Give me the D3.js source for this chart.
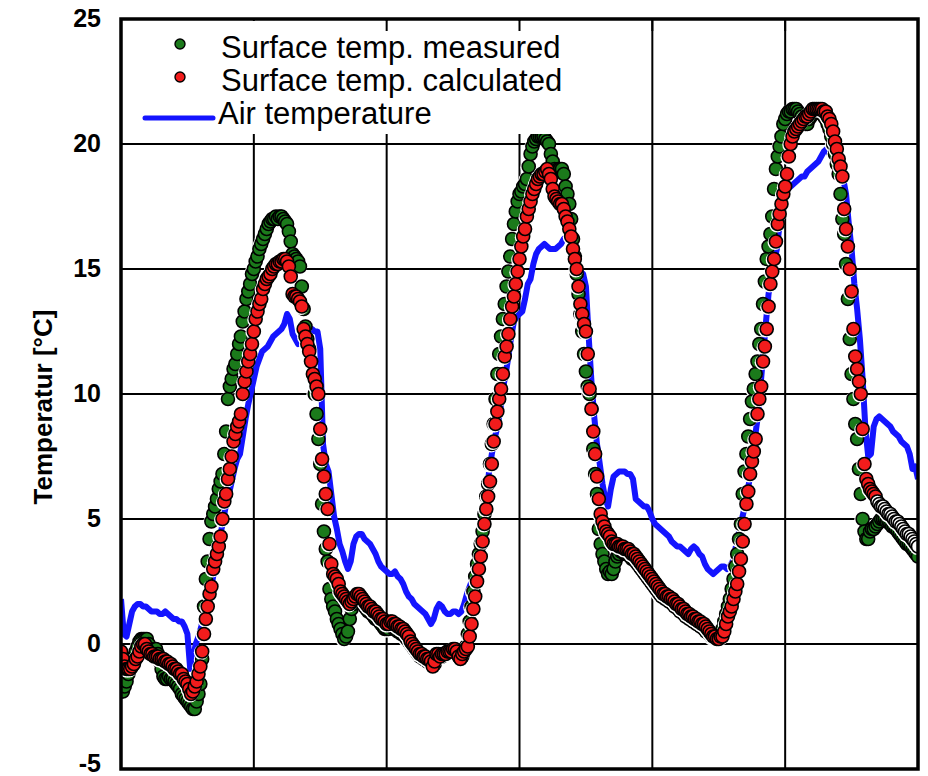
<!DOCTYPE html>
<html>
<head>
<meta charset="utf-8">
<script src="https://cdn.jsdelivr.net/npm/d3@7"></script>
<style>
  body { margin: 0; background: #fff; }
  svg { display: block; }
</style>
</head>
<body>
<svg id="chart" width="928" height="776"></svg>
<script>
// Sampling intervals (hours)
const SURFACE_STEP_H = 1 / 3;   // surface temperatures every 20 min
const AIR_STEP_H = 0.5;         // air temperature every 30 min

// Surface temperature, measured [°C]
const surfaceMeasured = [
  -1.9,-1.9,-1.7,-1.5,-1.2,-1.0,-0.7,-0.5,-0.3,-0.1,0.1,0.2,
  0.2,0.2,0.2,0.0,-0.2,-0.3,-0.3,-0.2,-0.4,-0.7,-1.0,-1.3,
  -1.4,-1.4,-1.3,-1.4,-1.4,-1.5,-1.6,-1.7,-1.8,-2.0,-2.1,-2.2,
  -2.3,-2.4,-2.5,-2.6,-2.6,-2.3,-2.0,-1.6,-0.6,1.5,2.6,3.3,
  4.2,4.9,5.2,5.5,5.8,6.2,6.5,6.8,7.6,8.5,9.8,10.3,
  10.6,11.0,11.2,11.6,12.0,12.3,12.9,13.3,13.8,14.1,14.4,14.8,
  15.0,15.3,15.5,15.8,16.0,16.2,16.4,16.6,16.8,16.9,17.0,17.0,
  17.1,17.0,17.1,17.1,17.0,16.9,16.8,16.5,16.1,15.6,15.5,15.4,
  15.3,15.1,14.3,13.4,12.7,12.2,11.8,11.3,10.7,10.0,9.2,8.2,
  7.2,5.6,4.5,3.8,3.3,2.2,1.8,1.5,1.3,1.0,0.8,0.6,
  0.4,0.2,0.3,0.5,1.0,1.4,1.6,1.7,1.8,1.8,1.7,1.6,
  1.5,1.4,1.3,1.3,1.2,1.1,1.0,1.0,0.9,0.8,0.7,0.6,
  0.6,0.6,0.7,0.7,0.6,0.6,0.5,0.5,0.4,0.4,0.3,0.2,
  0.1,0.0,-0.1,-0.2,-0.3,-0.4,-0.5,-0.5,-0.6,-0.6,-0.7,-0.7,
  -0.8,-0.9,-0.8,-0.5,-0.5,-0.5,-0.5,-0.4,-0.4,-0.3,-0.3,-0.3,
  -0.3,-0.3,-0.4,-0.5,-0.6,-0.5,-0.3,-0.1,0.4,0.9,1.5,2.1,
  2.7,3.2,3.6,4.0,4.5,5.2,5.9,6.4,7.2,8.0,8.8,9.8,
  10.8,11.6,12.3,13.0,13.6,14.3,14.9,15.5,16.2,16.8,17.3,17.7,
  18.0,18.1,18.3,18.4,18.6,19.1,19.6,19.9,20.1,20.2,20.3,20.3,
  20.3,20.3,20.2,20.1,20.0,19.6,19.3,19.0,18.9,19.0,19.0,19.0,
  18.8,18.3,18.0,17.6,17.0,16.2,15.5,14.8,14.0,13.2,12.5,11.6,
  10.9,10.3,10.0,9.4,7.8,6.8,6.0,4.6,4.0,3.6,3.3,3.0,
  2.8,2.9,2.8,3.0,3.3,3.5,3.6,3.7,3.7,3.6,3.6,3.6,
  3.5,3.4,3.4,3.3,3.2,3.1,3.0,2.9,2.8,2.7,2.6,2.5,
  2.4,2.3,2.2,2.1,2.0,1.9,1.9,1.8,1.8,1.7,1.7,1.6,
  1.5,1.5,1.4,1.3,1.3,1.2,1.1,1.1,1.0,1.0,0.9,0.9,
  0.8,0.8,0.7,0.7,0.6,0.5,0.5,0.4,0.3,0.3,0.2,0.2,
  0.3,0.4,0.6,0.9,1.2,1.5,1.8,2.2,2.6,3.1,3.6,4.2,
  4.8,6.0,6.9,7.6,8.3,9.0,9.7,10.2,10.8,11.3,12.0,12.6,
  13.6,14.5,15.4,15.9,16.4,17.1,18.2,19.0,19.5,19.9,20.3,20.8,
  21.0,21.2,21.3,21.3,21.4,21.4,21.4,21.3,21.2,21.1,21.0,20.8,
  20.8,21.0,21.1,21.2,21.3,21.3,21.3,21.3,21.2,21.1,21.0,20.8,
  20.6,20.3,20.0,19.6,19.2,18.8,18.0,17.0,16.4,15.2,13.8,12.2,
  10.8,9.8,8.8,8.2,7.0,6.0,5.0,4.5,4.2,4.2,4.5,4.6,
  4.6,4.7,4.8,4.9,5.0,5.0,5.0,4.9,4.9,4.8,4.7,4.7,
  4.6,4.5,4.4,4.3,4.2,4.1,4.0,4.0,3.9,3.8,3.7,3.6,3.5
];

// Surface temperature, calculated [°C]
const surfaceCalculated = [
  -0.3,-0.6,-0.9,-1.0,-1.0,-1.0,-0.9,-0.8,-0.6,-0.5,-0.3,-0.1,
  0.0,0.0,-0.2,-0.3,-0.4,-0.4,-0.5,-0.5,-0.5,-0.6,-0.6,-0.6,
  -0.7,-0.7,-0.8,-0.8,-0.9,-1.0,-1.0,-1.1,-1.2,-1.2,-1.4,-1.5,
  -1.6,-1.8,-2.0,-1.9,-1.7,-1.5,-1.2,-0.9,-0.3,0.4,1.0,1.5,
  2.0,2.3,3.0,3.3,3.6,3.9,4.3,5.0,5.7,6.0,6.6,7.0,
  7.5,8.1,8.4,8.7,8.9,9.2,10.0,10.5,10.9,11.3,11.6,12.0,
  12.5,13.0,13.3,13.6,13.8,14.2,14.4,14.6,14.7,14.8,15.0,15.1,
  15.2,15.2,15.3,15.3,15.4,15.4,15.3,15.1,14.7,14.0,13.9,13.9,
  13.8,13.7,13.5,12.6,12.3,12.0,11.7,11.3,10.8,10.6,10.3,10.0,
  8.6,7.4,6.7,6.0,5.4,4.0,3.2,2.8,2.7,2.6,2.4,2.1,
  2.0,1.9,1.8,1.7,1.6,1.7,1.8,1.9,2.0,2.0,1.9,1.8,
  1.7,1.6,1.5,1.5,1.4,1.3,1.3,1.2,1.1,1.0,1.0,0.9,
  0.8,0.8,0.9,0.9,0.8,0.8,0.7,0.7,0.6,0.6,0.5,0.4,
  0.3,0.1,0.0,-0.1,-0.2,-0.3,-0.4,-0.4,-0.5,-0.5,-0.6,-0.6,
  -0.7,-0.9,-0.7,-0.4,-0.4,-0.5,-0.4,-0.4,-0.4,-0.3,-0.3,-0.3,
  -0.2,-0.2,-0.3,-0.5,-0.6,-0.4,-0.3,-0.2,-0.1,0.3,0.8,1.4,
  1.9,2.5,3.0,3.5,4.1,4.8,5.4,5.9,6.5,7.2,8.1,8.8,
  9.3,9.8,10.2,10.8,11.5,11.9,12.4,13.0,13.5,13.9,14.4,14.9,
  15.4,15.9,16.3,16.6,17.1,17.4,17.7,18.0,18.2,18.4,18.6,18.7,
  18.8,18.8,18.9,19.0,18.8,18.6,18.2,17.9,17.8,17.7,17.6,17.6,
  17.4,17.1,16.9,16.6,16.3,15.8,15.4,15.0,14.3,13.6,13.2,12.8,
  12.5,11.6,10.2,9.4,8.5,7.6,6.7,5.8,5.2,4.9,4.7,4.5,
  4.4,4.3,4.1,4.0,4.0,4.0,3.9,3.9,3.9,3.8,3.8,3.8,
  3.7,3.6,3.6,3.5,3.4,3.3,3.2,3.1,3.0,2.9,2.8,2.7,
  2.6,2.5,2.4,2.3,2.2,2.1,2.0,2.0,1.9,1.9,1.8,1.8,
  1.7,1.6,1.6,1.5,1.4,1.4,1.3,1.2,1.2,1.1,1.1,1.0,
  1.0,0.9,0.9,0.8,0.8,0.7,0.6,0.5,0.4,0.3,0.3,0.2,
  0.2,0.3,0.3,0.5,0.8,1.1,1.3,1.5,1.8,2.1,2.4,2.9,
  3.4,4.1,4.8,5.6,6.1,6.8,7.3,7.7,8.2,9.2,9.8,10.3,
  11.3,11.9,12.6,13.5,14.4,14.9,15.4,16.1,16.8,17.2,17.6,18.0,
  18.3,18.8,19.5,20.0,20.3,20.5,20.6,20.7,20.8,20.9,21.0,21.1,
  21.1,21.2,21.3,21.4,21.4,21.4,21.4,21.4,21.4,21.3,21.3,21.1,
  21.0,20.8,20.5,20.1,19.8,19.4,19.1,18.7,17.4,16.6,15.9,15.0,
  14.1,12.6,11.5,11.0,10.5,10.0,8.6,7.2,6.6,6.4,6.2,6.1,
  6.0,5.9,5.7,5.6,5.5,5.5,5.4,5.3,5.2,5.2,5.1,5.0,
  4.9,4.9,4.8,4.7,4.6,4.5,4.4,4.4,4.3,4.2,4.1,4.0,3.9
];
// Calculated values from this hour on are shown as open (white) markers
const calcOpenFromHour = 136.5;

// Air temperature [°C]
const airTemperature = [
  1.8,0.4,0.3,0.8,1.3,1.5,1.6,1.6,1.5,1.5,1.4,1.3,
  1.3,1.3,1.2,1.2,1.3,1.2,1.1,1.0,1.0,0.9,0.9,0.7,
  0.4,-1.0,-0.6,0.0,0.3,0.7,1.2,1.5,1.9,2.5,3.2,3.8,
  4.4,5.0,5.6,6.0,6.5,7.0,7.4,7.6,8.3,9.0,9.6,10.1,
  10.6,11.1,11.4,11.7,11.8,11.9,12.1,12.3,12.4,12.5,12.6,12.8,
  13.2,13.0,12.4,12.2,12.0,12.1,12.4,12.5,12.6,12.6,12.5,12.5,
  11.8,8.0,7.2,6.9,6.0,5.1,4.6,4.0,3.7,3.3,3.0,3.3,
  4.0,4.3,4.4,4.4,4.2,4.1,4.0,3.8,3.6,3.3,3.1,3.0,
  2.9,2.8,2.8,2.9,2.7,2.6,2.4,2.1,1.9,1.8,1.6,1.5,
  1.4,1.3,1.2,1.0,0.8,1.0,1.4,1.6,1.5,1.3,1.2,1.2,
  1.3,1.3,1.2,1.3,1.6,2.0,2.3,2.6,2.8,3.2,3.7,4.7,
  5.8,6.9,7.6,8.2,8.7,9.3,10.2,10.8,11.5,12.3,12.9,13.1,
  13.2,13.3,13.8,14.4,14.6,15.2,15.6,15.8,15.9,16.0,15.9,15.8,
  15.8,15.8,15.9,16.0,16.2,16.3,16.2,15.8,15.4,15.0,14.9,14.8,
  14.3,12.3,10.5,9.1,8.0,7.2,6.4,5.8,5.5,6.2,6.7,6.8,
  6.9,6.9,6.9,6.8,6.8,6.6,5.8,5.7,5.6,5.5,5.5,5.3,
  5.0,4.8,4.7,4.6,4.5,4.4,4.3,4.1,4.0,3.9,3.9,3.8,
  3.7,3.6,3.8,3.9,3.8,3.6,3.5,3.2,3.0,2.9,2.8,2.9,
  3.0,3.1,3.1,3.0,3.1,3.3,3.8,4.3,4.8,5.3,5.8,6.5,
  7.2,8.2,9.0,10.2,11.5,12.8,14.0,14.7,15.3,15.8,16.8,17.5,
  18.0,18.2,18.3,18.4,18.5,18.6,18.7,18.7,18.9,19.0,19.1,19.2,
  19.3,19.5,19.7,19.8,19.6,19.4,19.2,19.0,18.8,18.6,18.0,16.8,
  15.8,14.4,13.4,12.2,10.6,8.6,7.5,7.6,8.7,9.0,9.1,9.0,
  8.9,8.8,8.7,8.5,8.4,8.3,8.1,8.0,7.9,7.6,7.0,7.1,6.6
];

// Axis ticks
const yTicks = [-5, 0, 5, 10, 15, 20, 25];
const dayLines = [24, 48, 72, 96, 120];   // hours
const topTickHours = [48, 72, 96, 120];

// Legend entries
const legendItems = [
  { label: "Surface temp. measured",   kind: "dot",  color: "#1b7a1b" },
  { label: "Surface temp. calculated", kind: "dot",  color: "#f21c1c" },
  { label: "Air temperature",          kind: "line", color: "#1414ff" }
];

const colors = { measured: "#1b7a1b", calculated: "#f21c1c", air: "#1414ff" };
const FONT = "'Liberation Sans', Arial, Helvetica, sans-serif";

const width = 928, height = 776;
const margin = { top: 19, right: 10, bottom: 7, left: 121 };

const x = d3.scaleLinear().domain([0, 144]).range([margin.left, width - margin.right]);
const y = d3.scaleLinear().domain([-5, 25]).range([height - margin.bottom, margin.top]);

const svg = d3.select("#chart");

svg.append("defs").append("clipPath").attr("id", "plot-clip")
  .append("rect")
  .attr("x", x(0)).attr("y", y(25))
  .attr("width", x(144) - x(0)).attr("height", y(-5) - y(25));

// Grid
const grid = svg.append("g").attr("stroke", "#000").attr("stroke-width", 2);
grid.selectAll("line.h").data(yTicks.filter(d => d > -5 && d < 25)).join("line")
  .attr("class", "h")
  .attr("x1", x(0)).attr("x2", x(144))
  .attr("y1", d => y(d)).attr("y2", d => y(d));
grid.selectAll("line.v").data(dayLines).join("line")
  .attr("class", "v")
  .attr("x1", d => x(d)).attr("x2", d => x(d))
  .attr("y1", y(25)).attr("y2", y(-5));

const plot = svg.append("g").attr("clip-path", "url(#plot-clip)");

// Air temperature line
const airLine = d3.line()
  .x((d, i) => x(i * AIR_STEP_H))
  .y(d => y(d));
plot.append("path")
  .datum(airTemperature)
  .attr("d", airLine)
  .attr("fill", "none")
  .attr("stroke", colors.air)
  .attr("stroke-width", 6)
  .attr("stroke-linejoin", "round");

// Surface temperature markers: a white rim under the whole series,
// then coloured discs with black outlines on top
function drawMarkers(values, fill) {
  const pts = values.map((v, i) => ({ t: i * SURFACE_STEP_H, v }));
  const g = plot.append("g");
  g.append("g").selectAll("circle").data(pts).join("circle")
    .attr("cx", d => x(d.t) - 0.9)
    .attr("cy", d => y(d.v) + 0.9)
    .attr("r", 7.5)
    .attr("fill", "#fff");
  g.append("g").selectAll("circle").data(pts).join("circle")
    .attr("cx", d => x(d.t))
    .attr("cy", d => y(d.v))
    .attr("r", 6.5)
    .attr("fill", fill)
    .attr("stroke", "#000")
    .attr("stroke-width", 1.6);
}
drawMarkers(surfaceMeasured, () => colors.measured);
drawMarkers(surfaceCalculated, d => d.t >= calcOpenFromHour ? "#fff" : colors.calculated);

// Legend
const legend = svg.append("g");
legend.append("rect")
  .attr("x", x(0) + 3).attr("y", y(25) + 2)
  .attr("width", 476).attr("height", 113)
  .attr("fill", "#fff");
const rowY = [47, 80, 113];
legendItems.forEach((item, i) => {
  const cy = rowY[i];
  if (item.kind === "dot") {
    legend.append("circle")
      .attr("cx", 180).attr("cy", cy - 3).attr("r", 5)
      .attr("fill", item.color).attr("stroke", "#000").attr("stroke-width", 1.4);
  } else {
    legend.append("line")
      .attr("x1", 145).attr("x2", 213)
      .attr("y1", cy + 5).attr("y2", cy + 5)
      .attr("stroke", item.color).attr("stroke-width", 5)
      .attr("stroke-linecap", "round");
  }
  legend.append("text")
    .attr("x", item.kind === "dot" ? 221 : 218)
    .attr("y", cy + 11)
    .attr("font-family", FONT)
    .attr("font-size", 31)
    .attr("fill", "#000")
    .text(item.label);
});

// Short ticks along the top edge
svg.append("g").selectAll("line").data(topTickHours).join("line")
  .attr("x1", d => x(d)).attr("x2", d => x(d))
  .attr("y1", y(25)).attr("y2", y(25) + 12)
  .attr("stroke", "#000").attr("stroke-width", 2);

// Frame
svg.append("rect")
  .attr("x", x(0)).attr("y", y(25))
  .attr("width", x(144) - x(0)).attr("height", y(-5) - y(25))
  .attr("fill", "none").attr("stroke", "#000").attr("stroke-width", 3.5);

// Y axis labels (kept inside the canvas at the bottom edge)
const yg = svg.append("g");
yg.selectAll("text").data(yTicks).join("text")
  .attr("x", x(0) - 20)
  .attr("y", d => Math.min(y(d), height - 12))
  .attr("dy", "0.3em")
  .attr("text-anchor", "end")
  .attr("font-family", FONT)
  .attr("font-size", 25)
  .attr("font-weight", "bold")
  .attr("fill", "#000")
  .text(d => String(d));

// Y axis title
svg.append("text")
  .attr("transform", `translate(43,${(y(25) + y(-5)) / 2 + 13}) rotate(-90)`)
  .attr("text-anchor", "middle")
  .attr("dy", "0.35em")
  .attr("font-family", FONT)
  .attr("font-size", 26)
  .attr("font-weight", "bold")
  .attr("fill", "#000")
  .text("Temperatur [°C]");
</script>
</body>
</html>
